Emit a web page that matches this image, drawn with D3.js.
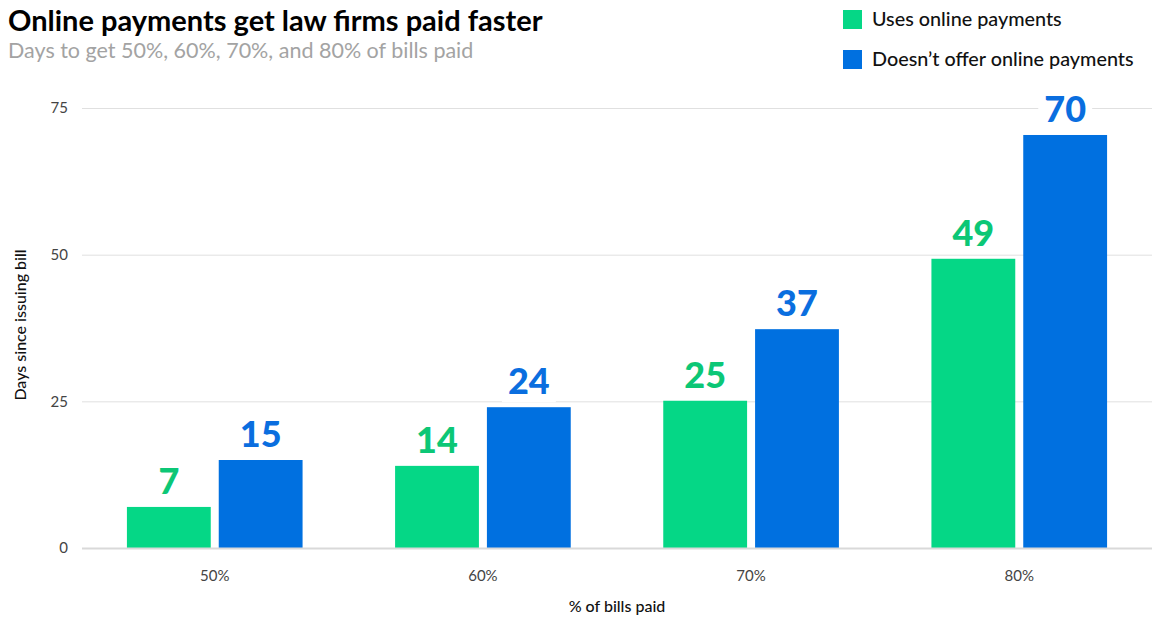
<!DOCTYPE html>
<html><head><meta charset="utf-8">
<script src="https://cdn.jsdelivr.net/npm/d3@7"></script>
<style>
body{margin:0;background:#fff;}
svg{display:block;font-family:Lato,"Noto Sans",sans-serif;}
</style></head>
<body><svg id="c" width="1152" height="617"></svg>
<script>
const categories = ["50%","60%","70%","80%"];
const seriesNames = ["Uses online payments","Doesn\u2019t offer online payments"];
const usesOnline = [7, 14, 25.1, 49.3];
const noOnline = [15, 24, 37.3, 70.4];
const yTicks = [0, 25, 50, 75];
const colors = ["#05d786","#0070e0"];
const labelColors = ["#0cc776","#0a6edf"];

const svg = d3.select("#c");
const W = 1152, H = 617;
const m = {left:82, right:0, top:108, bottom:69};

const x = d3.scaleBand().domain(categories).range([m.left, W - m.right])
  .paddingInner(0.345).paddingOuter(0.1675);
const xs = d3.scaleBand().domain([0,1]).range([0, x.bandwidth()]).paddingInner(0.087).paddingOuter(0);
const y = d3.scaleLinear().domain([0,75]).range([H - m.bottom, m.top]);

// gridlines
const yAxis = d3.axisLeft(y).tickValues(yTicks).tickSize(-(W - m.left - m.right)).tickPadding(14);
const gy = svg.append("g").attr("transform",`translate(${m.left},0)`).call(yAxis);
gy.select(".domain").remove();
gy.selectAll(".tick line").attr("stroke","#e0e0e0").attr("stroke-width",1);
gy.selectAll(".tick text").attr("fill","#444").style("font-size","15px").attr("font-family","Lato, sans-serif");

// bars
const data = categories.map((c,i)=>({cat:c, vals:[usesOnline[i], noOnline[i]]}));
const groups = svg.append("g").selectAll("g").data(data).join("g")
  .attr("transform", d=>`translate(${x(d.cat)},0)`);
groups.selectAll("rect.bar").data(d=>d.vals.map((v,k)=>({v,k}))).join("rect")
  .attr("class","bar")
  .attr("x", d=>xs(d.k)).attr("width", xs.bandwidth())
  .attr("y", d=>y(d.v)).attr("height", d=>y(0)-y(d.v))
  .attr("fill", d=>colors[d.k]);

// value labels
const lab = groups.selectAll("g.lab").data(d=>d.vals.map((v,k)=>({v,k}))).join("g").attr("class","lab");
lab.each(function(d){
  const g = d3.select(this);
  const cx = xs(d.k) + xs.bandwidth()/2;
  const t = g.append("text").attr("x", cx).attr("y", y(d.v) - 13)
    .attr("text-anchor","middle").attr("fill", labelColors[d.k])
    .style("font-size","36px").style("font-weight","900")
    .text(d3.format(".0f")(d.v));
  const bb = t.node().getBBox();
  g.insert("rect","text").attr("x", bb.x - 6).attr("width", bb.width + 12)
    .attr("y", bb.y + 4).attr("height", bb.height - 4).attr("fill","#fff");
});

// baseline
svg.append("line").attr("x1", m.left).attr("x2", W).attr("y1", y(0)+0.5).attr("y2", y(0)+0.5)
  .attr("stroke","#d9d9d9").attr("stroke-width",2);

// x axis
const xAxis = d3.axisBottom(x).tickSize(0).tickPadding(22);
const gx = svg.append("g").attr("transform",`translate(0,${y(0)})`).call(xAxis);
gx.select(".domain").remove();
gx.selectAll(".tick text").attr("fill","#444").style("font-size","15px").attr("font-family","Lato, sans-serif");

// axis titles
svg.append("text").attr("x", (m.left + W)/2).attr("y", 612).attr("text-anchor","middle")
  .attr("fill","#111").style("font-size","16px").style("font-weight","500").text("% of bills paid");
svg.append("text").attr("transform","translate(26,325) rotate(-90)").attr("text-anchor","middle")
  .attr("fill","#111").style("font-size","16px").style("font-weight","500").text("Days since issuing bill");

// title
svg.append("text").attr("x", 8).attr("y", 31).attr("fill","#000")
  .style("font-size","29px").style("font-weight","700").text("Online payments get law firms paid faster");
svg.append("text").attr("x", 8).attr("y", 58).attr("fill","#a3a3a3")
  .style("font-size","21.5px").style("font-weight","400").text("Days to get 50%, 60%, 70%, and 80% of bills paid");

// legend
const leg = svg.append("g").selectAll("g").data(seriesNames).join("g")
  .attr("transform",(d,i)=>`translate(843,${10 + i*40})`);
leg.append("rect").attr("width",19).attr("height",19).attr("fill",(d,i)=>colors[i]);
leg.append("text").attr("x",29).attr("y",16).attr("fill","#111")
  .style("font-size","19.8px").style("font-weight","500").text(d=>d);
</script></body></html>
